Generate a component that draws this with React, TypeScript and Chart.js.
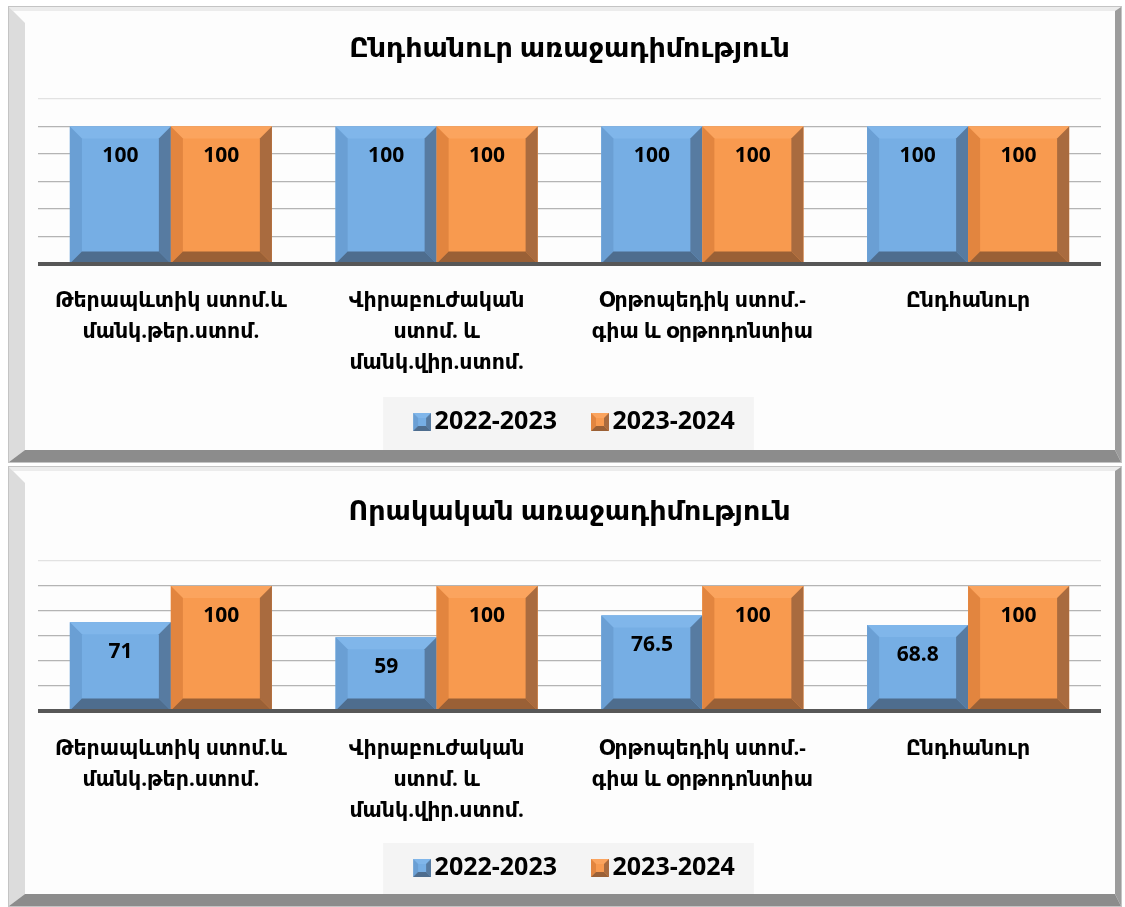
import React, { useEffect, useRef } from "react";
import { Chart, registerables } from "chart.js";

Chart.register(...registerables);

// ---------------- data ----------------
const categories: string[][] = [
  ["Թերապևտիկ ստոմ.և", "մանկ.թեր.ստոմ."],
  ["Վիրաբուժական", "ստոմ. և", "մանկ.վիր.ստոմ."],
  ["Օրթոպեդիկ ստոմ.-", "գիա և օրթոդոնտիա"],
  ["Ընդհանուր"],
];
const seriesNames = ["2022-2023", "2023-2024"];
const titleOverall = "Ընդհանուր առաջադիմություն";
const titleQuality = "Որակական առաջադիմություն";
const overallPrev = [100, 100, 100, 100];
const overallCurr = [100, 100, 100, 100];
const qualityPrev = [71, 59, 76.5, 68.8];
const qualityCurr = [100, 100, 100, 100];
const yMin = 0;
const yMax = 120;
const yStep = 20;

// ---------------- styles ----------------
const FONT = '"Open Sans", "DejaVu Sans", sans-serif';

type Palette = { face: string; top: string; left: string; right: string; bottom: string };
const BLUE: Palette = { face: "#76aee4", top: "#80b6ea", left: "#6a9fd4", right: "#577ba1", bottom: "#4e6d8e" };
const ORANGE: Palette = { face: "#f89a4f", top: "#fba45e", left: "#e2853f", right: "#a96b3f", bottom: "#9a6036" };
const palettes = [BLUE, ORANGE];

function makeIcon(p: Palette): HTMLCanvasElement {
  const c = document.createElement("canvas");
  c.width = 36;
  c.height = 18;
  const g = c.getContext("2d")!;
  const l = 18, t = 0, r = 36, b = 18, bv = 5;
  g.fillStyle = p.face;
  g.fillRect(l, t, r - l, b - t);
  const poly = (pts: number[][], col: string) => {
    g.beginPath();
    g.moveTo(pts[0][0], pts[0][1]);
    for (let i = 1; i < pts.length; i++) g.lineTo(pts[i][0], pts[i][1]);
    g.closePath();
    g.fillStyle = col;
    g.fill();
  };
  poly([[l, t], [r, t], [r - bv, t + bv], [l + bv, t + bv]], p.top);
  poly([[l, t], [l + bv, t + bv], [l + bv, b - bv], [l, b]], p.left);
  poly([[r, t], [r, b], [r - bv, b - bv], [r - bv, t + bv]], p.right);
  poly([[l, b], [l + bv, b - bv], [r - bv, b - bv], [r, b]], p.bottom);
  return c;
}

function polyFill(ctx: CanvasRenderingContext2D, pts: number[][], col: string) {
  ctx.beginPath();
  ctx.moveTo(pts[0][0], pts[0][1]);
  for (let i = 1; i < pts.length; i++) ctx.lineTo(pts[i][0], pts[i][1]);
  ctx.closePath();
  ctx.fillStyle = col;
  ctx.fill();
}

type Cfg = {
  top: number;
  height: number;
  titleTop: number;
  titleBottom: number;
  padBottom: number;
  xHeight: number;
  tickPad: number;
  legendBoxAbove: number;
};

const W = 1114;
const LB = 16; // left band
const BB = 12; // bottom band
const RB = 6; // right band
const TB = 4; // top band

function framePlugin(cfg: Cfg) {
  return {
    id: "frame",
    beforeDraw(chart: any) {
      const ctx: CanvasRenderingContext2D = chart.ctx;
      const H = cfg.height;
      ctx.save();
      ctx.fillStyle = "#fdfdfd";
      ctx.fillRect(0, 0, W, H);
      polyFill(ctx, [[1, 1], [W - 1, 1], [W - 1 - RB, 1 + TB], [1 + TB, 1 + TB]], "#ececec");
      polyFill(ctx, [[1, 1], [1 + LB, 1 + LB], [1 + LB, H - 1 - BB], [1, H - 1]], "#dcdcdc");
      polyFill(ctx, [[W - 1, 1], [W - 1, H - 1], [W - 1 - RB, H - 1 - BB], [W - 1 - RB, 1 + TB]], "#9c9c9c");
      polyFill(ctx, [[1, H - 1], [1 + LB, H - 1 - BB], [W - 1 - RB, H - 1 - BB], [W - 1, H - 1]], "#8c8c8c");
      ctx.strokeStyle = "#c4c4c4";
      ctx.lineWidth = 1;
      ctx.strokeRect(0.5, 0.5, W - 1, H - 1);
      // legend background panel
      const lg = chart.legend;
      if (lg && lg.legendHitBoxes && lg.legendHitBoxes.length) {
        const hb = lg.legendHitBoxes;
        const first = hb[0];
        const last = hb[hb.length - 1];
        const textMid = first.top + first.height / 2;
        const left = first.left - 21;
        const right = last.left + last.width + 19;
        const top = textMid - cfg.legendBoxAbove;
        ctx.fillStyle = "#f4f4f4";
        ctx.fillRect(left, top, right - left, H - 1 - BB - top);
      }
      ctx.restore();
    },
  };
}

const bars3d = {
  id: "bars3d",
  afterDatasetsDraw(chart: any) {
    const ctx: CanvasRenderingContext2D = chart.ctx;
    const area = chart.chartArea;
    ctx.save();
    chart.data.datasets.forEach((ds: any, i: number) => {
      const meta = chart.getDatasetMeta(i);
      const p = palettes[i];
      meta.data.forEach((el: any) => {
        const { x, y, base, width } = el.getProps(["x", "y", "base", "width"], true);
        const l = x - width / 2;
        const r = x + width / 2;
        const t = y;
        const b = base;
        const bv = 12;
        ctx.fillStyle = p.face;
        ctx.fillRect(l, t, r - l, b - t);
        polyFill(ctx, [[l, t], [r, t], [r - bv, t + bv], [l + bv, t + bv]], p.top);
        polyFill(ctx, [[l, t], [l + bv, t + bv], [l + bv, b - bv], [l, b]], p.left);
        polyFill(ctx, [[r, t], [r, b], [r - bv, b - bv], [r - bv, t + bv]], p.right);
        polyFill(ctx, [[l, b], [l + bv, b - bv], [r - bv, b - bv], [r, b]], p.bottom);
      });
    });
    // axis baseline
    const yb = chart.scales.y.getPixelForValue(0);
    ctx.fillStyle = "#575757";
    ctx.fillRect(area.left, yb - 2, area.right - area.left, 4);
    // value labels
    ctx.fillStyle = "#000";
    ctx.font = `bold 21px ${FONT}`;
    ctx.textAlign = "center";
    ctx.textBaseline = "middle";
    chart.data.datasets.forEach((ds: any, i: number) => {
      const meta = chart.getDatasetMeta(i);
      meta.data.forEach((el: any, j: number) => {
        const { x, y } = el.getProps(["x", "y"], true);
        ctx.fillText(String(ds.data[j]), x, y + 30);
      });
    });
    ctx.restore();
  },
};

function Panel({ cfg, title, prev, curr }: { cfg: Cfg; title: string; prev: number[]; curr: number[] }) {
  const ref = useRef<HTMLCanvasElement>(null);
  useEffect(() => {
    const icons = [makeIcon(BLUE), makeIcon(ORANGE)];
    const chart = new Chart(ref.current as HTMLCanvasElement, {
      type: "bar",
      data: {
        labels: categories,
        datasets: [
          { label: seriesNames[0], data: prev, backgroundColor: BLUE.face },
          { label: seriesNames[1], data: curr, backgroundColor: ORANGE.face },
        ],
      },
      options: {
        responsive: false,
        animation: false,
        devicePixelRatio: 1,
        events: [],
        layout: { padding: { left: 30, right: 21, top: 10, bottom: cfg.padBottom } },
        datasets: { bar: { categoryPercentage: 0.76, barPercentage: 1 } },
        plugins: {
          title: {
            display: true,
            text: title,
            color: "#000",
            font: { family: FONT, size: 27, weight: "bold", lineHeight: 1.2 },
            padding: { top: cfg.titleTop, bottom: cfg.titleBottom },
          },
          legend: {
            position: "bottom",
            labels: {
              usePointStyle: true,
              boxWidth: 18,
              boxHeight: 18,
              padding: 25,
              color: "#000",
              font: { family: FONT, size: 25, weight: "bold" },
              generateLabels: (c: any) =>
                (Chart.defaults.plugins.legend.labels as any)
                  .generateLabels(c)
                  .map((it: any, i: number) => ({ ...it, pointStyle: icons[i], fontColor: "#000" })),
            },
          },
          tooltip: { enabled: false },
        },
        scales: {
          x: {
            grid: { display: false, drawTicks: false, tickLength: 0 },
            border: { display: false },
            ticks: {
              color: "#000",
              font: { family: FONT, size: 20.5, weight: "bold", lineHeight: 31 / 20.5 },
              padding: cfg.tickPad,
              maxRotation: 0,
              autoSkip: false,
            },
            afterFit: (s: any) => {
              s.height = cfg.xHeight;
            },
          },
          y: {
            min: yMin,
            max: yMax,
            ticks: { display: false, stepSize: yStep },
            grid: {
              drawTicks: false,
              tickLength: 0,
              color: (c: any) => (c.tick && c.tick.value === yMax ? "#e2e2e2" : "#b4b4b4"),
              lineWidth: 1.2,
            },
            border: { display: false },
            afterFit: (s: any) => {
              s.width = 0;
            },
          },
        },
      } as any,
      plugins: [framePlugin(cfg), bars3d],
    });
    return () => chart.destroy();
  }, []);
  return (
    <canvas
      ref={ref}
      width={W}
      height={cfg.height}
      style={{ position: "absolute", left: 8, top: cfg.top, width: W, height: cfg.height, display: "block" }}
    />
  );
}

const topCfg: Cfg = {
  top: 6,
  height: 457,
  titleTop: 16.8,
  titleBottom: 33.8,
  padBottom: 18.5,
  xHeight: 120.5,
  tickPad: 22,
  legendBoxAbove: 25,
};

const bottomCfg: Cfg = {
  top: 466,
  height: 441,
  titleTop: 19.8,
  titleBottom: 32.8,
  padBottom: 16.5,
  xHeight: 119.5,
  tickPad: 22.5,
  legendBoxAbove: 25,
};

export default function App() {
  useEffect(() => {
    document.body.style.margin = "0";
    document.body.style.overflow = "hidden";
  }, []);
  return (
    <div style={{ position: "relative", width: 1125, height: 907 }}>
      <Panel cfg={topCfg} title={titleOverall} prev={overallPrev} curr={overallCurr} />
      <Panel cfg={bottomCfg} title={titleQuality} prev={qualityPrev} curr={qualityCurr} />
    </div>
  );
}
